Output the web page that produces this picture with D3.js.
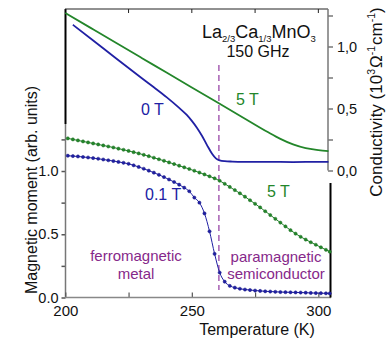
<!DOCTYPE html>
<html>
<head>
<meta charset="utf-8">
<script src="https://cdn.jsdelivr.net/npm/d3@7"></script>
<style>
  html, body { margin: 0; padding: 0; background: #fff; }
  svg { display: block; font-family: "Liberation Sans", Arial, sans-serif; }
</style>
</head>
<body>
<div id="chart"></div>
<script>
// conductivity at 150 GHz (10^3 Ohm^-1 cm^-1)
const tempSigma0 = [203, 210, 220, 230, 235, 240, 245, 248, 250, 252, 254, 256, 258, 259.5, 261, 263, 266, 270, 280, 290, 300, 304]
const sigma0T = [1.175, 1.065, 0.905, 0.748, 0.671, 0.592, 0.505, 0.448, 0.400, 0.345, 0.280, 0.205, 0.135, 0.098, 0.082, 0.075, 0.072, 0.07, 0.07, 0.068, 0.07, 0.07]
const tempSigma5 = [200, 210, 220, 230, 240, 250, 260, 270, 280, 285, 290, 295, 300, 304]
const sigma5T = [1.27, 1.15, 1.03, 0.91, 0.79, 0.67, 0.55, 0.43, 0.31, 0.255, 0.21, 0.18, 0.165, 0.157]

// magnetic moment (arb. units)
const tempMoment = [201, 203, 205, 207, 209, 211, 213, 215, 217, 219, 221, 223, 225, 227, 229, 231, 233, 235,
    237, 239, 241, 243, 245, 247, 249, 251, 253, 255, 257, 259, 261, 263, 265, 267, 269, 271, 273, 275,
    277, 279, 281, 283, 285, 287, 289, 291, 293, 295, 297, 299, 301, 303, 304.5]
const moment5T = [1.258, 1.250, 1.242, 1.234, 1.226, 1.218, 1.210, 1.202, 1.194, 1.186, 1.177, 1.168, 1.159,
    1.149, 1.139, 1.128, 1.117, 1.105, 1.093, 1.081, 1.068, 1.055, 1.042, 1.029, 1.016, 1.002, 0.988, 0.973,
    0.958, 0.942, 0.923, 0.899, 0.874, 0.849, 0.824, 0.797, 0.769, 0.741, 0.712, 0.682, 0.652, 0.622, 0.592,
    0.562, 0.532, 0.505, 0.480, 0.458, 0.437, 0.417, 0.397, 0.377, 0.362]
const moment01T = [1.121, 1.118, 1.115, 1.111, 1.107, 1.102, 1.097, 1.091, 1.085, 1.079, 1.072, 1.065, 1.057,
    1.045, 1.032, 1.018, 1.003, 0.987, 0.970, 0.952, 0.933, 0.913, 0.892, 0.868, 0.840, 0.790, 0.750, 0.665,
    0.523, 0.345, 0.197, 0.125, 0.092, 0.078, 0.069, 0.063, 0.059, 0.055, 0.052, 0.049, 0.047, 0.045, 0.043,
    0.042, 0.041, 0.040, 0.039, 0.038, 0.036, 0.035, 0.034, 0.033, 0.032]

const tempTicks = [200, 225, 250, 275, 300]
const tempLabels = [200, 250, 300]
const yTicks = [0, 0.25, 0.5, 0.75, 1.0, 1.25]
const yLabels = [0, 0.5, 1.0]
const tcTemp = 260.7

const blue = "#2020a4"
const green = "#23862a"
const purple = "#86288a"

const W = 389, H = 349
const svg = d3.select("#chart").append("svg").attr("width", W).attr("height", H)
svg.append("rect").attr("width", W).attr("height", H).attr("fill", "#fff")

const x = d3.scaleLinear().domain([200, 305]).range([65.3, 331])
const yC = d3.scaleLinear().domain([0, 1.25]).range([170.5, 15.5])
const yM = d3.scaleLinear().domain([0, 1.25]).range([297.5, 139.4])

const zip = (xs, ys) => xs.map((t, i) => [t, ys[i]])

/** top panel frame */
svg.append("line").attr("x1", 65.5).attr("x2", 65.5).attr("y1", 9).attr("y2", 124)
    .attr("stroke", "#000").attr("stroke-width", 2)
svg.append("line").attr("x1", 65).attr("x2", 328).attr("y1", 9).attr("y2", 9)
    .attr("stroke", "#222").attr("stroke-width", 1)
svg.append("g").selectAll("line").data(tempTicks.slice(1)).join("line")
    .attr("x1", d => x(d)).attr("x2", d => x(d)).attr("y1", 9).attr("y2", 13)
    .attr("stroke", "#222")

const rightAxis = svg.append("g").attr("transform", "translate(328,0)")
    .call(d3.axisRight(yC).tickValues(yTicks).tickSizeInner(5).tickSizeOuter(0).tickPadding(4)
        .tickFormat(d => yLabels.includes(d) ? d3.format(".1f")(d).replace(".", ",") : ""))
rightAxis.select(".domain").remove()
rightAxis.append("line").attr("x1", 0).attr("x2", 0).attr("y1", 9).attr("y2", yC(0))
    .attr("stroke", "#777").attr("stroke-width", 1.5)
rightAxis.selectAll(".tick line").attr("stroke", "#777").attr("stroke-width", 1.5)
rightAxis.selectAll("text").attr("font-size", 14.5).attr("fill", "#111").attr("font-family", "Liberation Sans, Arial, sans-serif")

/** bottom panel frame */
const leftAxis = svg.append("g").attr("transform", "translate(65.5,0)")
    .call(d3.axisLeft(yM).tickValues(yTicks).tickSizeInner(4).tickSizeOuter(0).tickPadding(3)
        .tickFormat(d => yLabels.includes(d) ? d3.format(".1f")(d) : ""))
leftAxis.select(".domain").remove()
leftAxis.append("line").attr("x1", 0).attr("x2", 0).attr("y1", 124).attr("y2", yM(0))
    .attr("stroke", "#777").attr("stroke-width", 1.5)
leftAxis.selectAll(".tick line").attr("stroke", "#555").attr("stroke-width", 1.5)
leftAxis.selectAll("text").attr("font-size", 14.5).attr("fill", "#111").attr("font-family", "Liberation Sans, Arial, sans-serif")

const bottomAxis = svg.append("g").attr("transform", `translate(0,${yM(0)})`)
    .call(d3.axisBottom(x).tickValues(tempTicks).tickSizeInner(-5).tickSizeOuter(0).tickPadding(8)
        .tickFormat(d => tempLabels.includes(d) ? d : ""))
bottomAxis.select(".domain").remove()
bottomAxis.append("line").attr("x1", 65).attr("x2", 331).attr("y1", 0).attr("y2", 0)
    .attr("stroke", "#888").attr("stroke-width", 1.5)
bottomAxis.selectAll(".tick line").attr("stroke", "#555").attr("stroke-width", 1.2)
bottomAxis.selectAll("text").attr("font-size", 15).attr("fill", "#111").attr("font-family", "Liberation Sans, Arial, sans-serif")

svg.append("line").attr("x1", 330.5).attr("x2", 330.5).attr("y1", 183).attr("y2", yM(0))
    .attr("stroke", "#000").attr("stroke-width", 2)

/** dashed transition line */
svg.append("line").attr("x1", x(tcTemp)).attr("x2", x(tcTemp)).attr("y1", 65).attr("y2", 290)
    .attr("stroke", "#9a48a8").attr("stroke-width", 1.3).attr("stroke-dasharray", "6,4")

/** conductivity curves */
const lineC = d3.line().x(d => x(d[0])).y(d => yC(d[1])).curve(d3.curveMonotoneX)
svg.append("path").datum(zip(tempSigma5, sigma5T)).attr("d", lineC)
    .attr("fill", "none").attr("stroke", green).attr("stroke-width", 1.8)
svg.append("path").datum(zip(tempSigma0, sigma0T)).attr("d", lineC)
    .attr("fill", "none").attr("stroke", blue).attr("stroke-width", 1.8)

/** magnetisation curves with markers */
const lineM = d3.line().x(d => x(d[0])).y(d => yM(d[1])).curve(d3.curveMonotoneX)
function addMomentSeries(values, color) {
    const pts = zip(tempMoment, values)
    svg.append("path").datum(pts).attr("d", lineM)
        .attr("fill", "none").attr("stroke", color).attr("stroke-width", 1)
    svg.append("g").selectAll("circle").data(pts).join("circle")
        .attr("cx", d => x(d[0])).attr("cy", d => yM(d[1])).attr("r", 1.6)
        .attr("fill", color).attr("stroke", d3.color(color).darker(0.6)).attr("stroke-width", 0.5)
}
addMomentSeries(moment5T, green)
addMomentSeries(moment01T, blue)

/** labels */
const label = (tx, ty, text, color, size, anchor="start") =>
    svg.append("text").attr("x", tx).attr("y", ty).attr("fill", color)
        .attr("font-size", size).attr("text-anchor", anchor).text(text)

const formula = svg.append("text").attr("x", 202).attr("y", 38).attr("font-size", 18).attr("fill", "#111")
const parts = [["La", false], ["2/3", true], ["Ca", false], ["1/3", true], ["MnO", false], ["3", true]]
parts.forEach(([t, sub], i) => {
    const ts = formula.append("tspan").text(t)
    if (sub) ts.attr("font-size", 9.5).attr("dy", 4)
    else if (i > 0) ts.attr("dy", -4)
})
label(258, 57, "150 GHz", "#111", 16, "middle")

label(236, 105, "5 T", green, 16)
label(141, 115, "0 T", blue, 16)
label(267, 197, "5 T", green, 16)
label(145, 200, "0.1 T", blue, 16)

label(136, 261, "ferromagnetic", purple, 15, "middle")
label(136, 279, "metal", purple, 15, "middle")
label(276, 262, "paramagnetic", purple, 15, "middle")
label(276, 279, "semiconductor", purple, 15, "middle")

// axis titles
label(257, 335, "Temperature (K)", "#111", 16, "middle")
svg.append("text").attr("transform", "translate(36.5,190) rotate(-90)")
    .attr("text-anchor", "middle").attr("font-size", 16).attr("fill", "#111")
    .text("Magnetic moment (arb. units)")

const condTitle = svg.append("text").attr("transform", "translate(382,102) rotate(-90)")
    .attr("text-anchor", "middle").attr("font-size", 17).attr("fill", "#111")
condTitle.append("tspan").text("Conductivity (10")
condTitle.append("tspan").text("3").attr("font-size", 10.5).attr("dy", -7)
condTitle.append("tspan").text("\u03A9").attr("dy", 7).attr("dx", 1)
condTitle.append("tspan").text("-1").attr("font-size", 10.5).attr("dy", -7)
condTitle.append("tspan").text("cm").attr("dy", 7).attr("dx", 1)
condTitle.append("tspan").text("-1").attr("font-size", 10.5).attr("dy", -7)
condTitle.append("tspan").text(")").attr("dy", 7)
</script>
</body>
</html>
